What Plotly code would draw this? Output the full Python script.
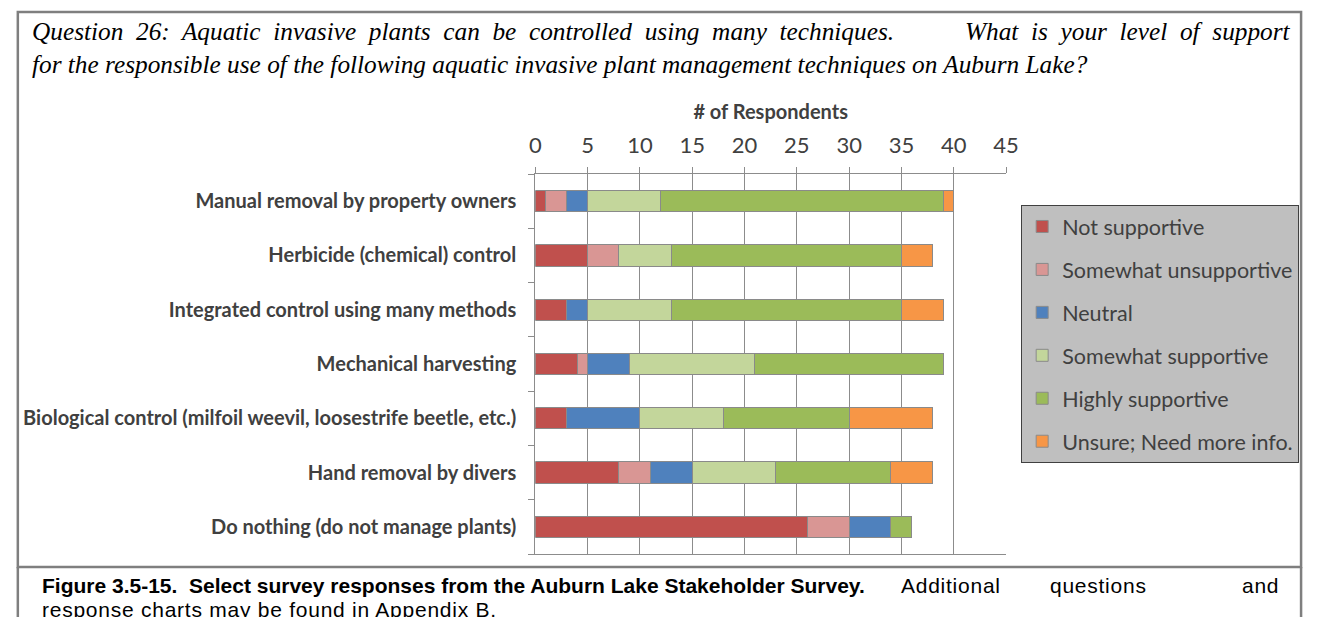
import plotly.graph_objects as go

W, H = 1319, 617

# Survey techniques (top to bottom)
techniques = [
    "Manual removal by property owners",
    "Herbicide (chemical) control",
    "Integrated control using many methods",
    "Mechanical harvesting",
    "Biological control (milfoil weevil, loosestrife beetle, etc.)",
    "Hand removal by divers",
    "Do nothing (do not manage plants)",
]

# Response counts per technique
not_supportive        = [1, 5, 3, 4, 3, 8, 26]
somewhat_unsupportive = [2, 3, 0, 1, 0, 3, 4]
neutral               = [2, 0, 2, 4, 7, 4, 4]
somewhat_supportive   = [7, 5, 8, 12, 8, 8, 0]
highly_supportive     = [27, 22, 22, 18, 12, 11, 2]
unsure                = [1, 3, 4, 0, 8, 4, 0]

series = [
    ("Not supportive", not_supportive, "#C0504D"),
    ("Somewhat unsupportive", somewhat_unsupportive, "#D99694"),
    ("Neutral", neutral, "#4F81BD"),
    ("Somewhat supportive", somewhat_supportive, "#C3D69B"),
    ("Highly supportive", highly_supportive, "#9BBB59"),
    ("Unsure; Need more info.", unsure, "#F79646"),
]

x_ticks = [0, 5, 10, 15, 20, 25, 30, 35, 40, 45]

GRID = "#8C8C8C"
TXT = "#404040"


def px(x):
    return x / W


def py(y):
    return 1 - y / H


def spread(text):
    # widen inter-word gaps to imitate a justified line
    return "\u00a0 ".join(text.split(" "))


def tracked(text):
    return f'<span style="letter-spacing:0.75px">{text}</span>'


fig = go.Figure()
for i, (name, vals, color) in enumerate(series):
    fig.add_trace(go.Bar(
        y=techniques, x=vals, name=name, orientation="h",
        legendgroup=f"g{i}",
        marker=dict(color=color, line=dict(color="#8A8A8A", width=1)),
        hoverinfo="x+name",
    ))

fig.update_layout(
    width=W, height=H, autosize=False,
    margin=dict(l=0, r=0, t=0, b=0),
    paper_bgcolor="white", plot_bgcolor="white",
    barmode="stack", bargap=0.61,
    font=dict(family="Lato", color=TXT),
    legend=dict(
        x=px(1030), y=py(205), xanchor="left", yanchor="top",
        bgcolor="#BFBFBF", bordercolor="#404040", borderwidth=1,
        font=dict(family="Lato", size=21.5, color=TXT),
        traceorder="grouped", tracegroupgap=12,
    ),
    xaxis=dict(
        domain=[px(537), px(1014.7)],
        range=[0, 45], tickvals=x_ticks, ticktext=[str(v) for v in x_ticks],
        side="top", showgrid=True, gridcolor=GRID, gridwidth=1,
        showline=True, linecolor=GRID, linewidth=1, mirror=True,
        ticks="outside", ticklen=6, tickcolor=GRID,
        tickfont=dict(family="Lato", size=22, color=TXT),
        ticklabelstandoff=5,
        title=dict(text="<b># of Respondents</b>", standoff=6,
                   font=dict(family="Lato", size=20, color=TXT)),
        zeroline=False, fixedrange=True,
    ),
    yaxis=dict(
        domain=[py(554), py(174)],
        autorange="reversed", type="category",
        showline=True, linecolor=GRID, linewidth=1,
        ticks="outside", ticklen=6, tickcolor=GRID, tickson="boundaries",
        tickfont=dict(family="Lato", size=20, color=TXT),
        ticklabelstandoff=14,
        showgrid=False, fixedrange=True,
    ),
)

# Category labels in bold
fig.update_yaxes(tickvals=techniques, ticktext=[f"<b>{t}</b>" for t in techniques])

# Frame around the chart panel and the caption sides
shapes = [
    dict(type="rect", xref="paper", yref="paper",
         x0=px(12), x1=px(1314), y0=py(567), y1=py(12),
         line=dict(color="#7F7F7F", width=2.5), layer="below"),
    dict(type="line", xref="paper", yref="paper",
         x0=px(12), x1=px(12), y0=0, y1=py(567),
         line=dict(color="#7F7F7F", width=2.5)),
    dict(type="line", xref="paper", yref="paper",
         x0=px(1314), x1=px(1314), y0=0, y1=py(567),
         line=dict(color="#7F7F7F", width=2.5)),
]
fig.update_layout(shapes=shapes)

serif = dict(family="Liberation Serif", size=25.3, color="black")
sans = dict(family="Liberation Sans", size=21, color="black")
ann = [
    dict(text="<i>" + spread("Question 26: Aquatic invasive plants can be controlled using many techniques.") + "</i>",
         x=px(24), y=py(31), xanchor="left", yanchor="middle", font=serif),
    dict(text="<i>" + spread("What is your level of support") + "</i>",
         x=px(1306), y=py(31), xanchor="right", yanchor="middle", font=serif),
    dict(text="<i>for the responsible use of the following aquatic invasive plant management techniques on Auburn Lake?</i>",
         x=px(24), y=py(64), xanchor="left", yanchor="middle", font=serif),
    dict(text="<b>Figure 3.5-15.&nbsp;&nbsp;Select survey responses from the Auburn Lake Stakeholder Survey.</b>",
         x=px(35), y=py(585), xanchor="left", yanchor="middle", font=sans),
    dict(text=tracked("Additional"),
         x=px(906), y=py(585), xanchor="left", yanchor="middle", font=sans),
    dict(text=tracked("questions"),
         x=px(1108), y=py(585), xanchor="center", yanchor="middle", font=sans),
    dict(text=tracked("and"),
         x=px(1294), y=py(585), xanchor="right", yanchor="middle", font=sans),
    dict(text=tracked("response charts may be found in Appendix B."),
         x=px(35), y=py(609), xanchor="left", yanchor="middle", font=sans),
]
for a in ann:
    a.update(xref="paper", yref="paper", showarrow=False)
fig.update_layout(annotations=ann)

fig.write_html("out.html")
